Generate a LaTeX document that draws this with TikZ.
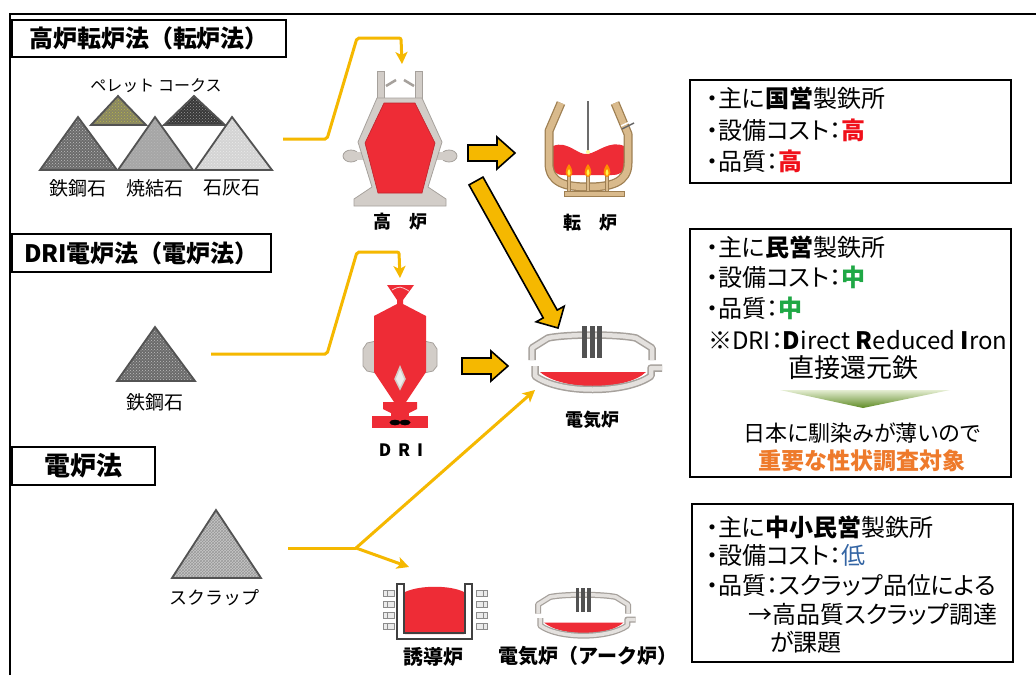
\documentclass[tikz,border=0pt]{standalone}
\usepackage{fontspec}
\setmainfont{Noto Sans CJK JP}
\newfontfamily\jpp{Noto Sans CJK JP}[RawFeature=+palt]
\usetikzlibrary{arrows.meta,patterns}
\definecolor{ylw}{HTML}{F5B800}
\definecolor{fgrey}{HTML}{D2CDC8}
\definecolor{fgreyd}{HTML}{A6A19C}
\definecolor{fred}{HTML}{EE2C36}
\definecolor{ctan}{HTML}{D9BA8C}
\definecolor{ctand}{HTML}{9E7F52}
\definecolor{txtred}{HTML}{F0101A}
\definecolor{txtgreen}{HTML}{1FA845}
\definecolor{txtblue}{HTML}{3465A4}
\definecolor{txtorange}{HTML}{EE7A2B}
\definecolor{wedgedark}{HTML}{5E8A24}
\definecolor{wedgelight}{HTML}{E4EDD2}
\newcommand\myarcfurn[5]{%
\begin{scope}[shift={(#1,#2)}, scale=#3]
  \fill[fred] (-52,22) -- (54,22) .. controls (34,41) and (-30,41) .. (-52,22) -- cycle;
  \draw[fgreyd, line width=#4, line join=round] (-57,16) -- (-57,26) .. controls (-33,44) and (34,44) .. (59,26) -- (59,18) -- (70,18);
  \draw[fgrey!60!white, line width=#5, line join=round] (-57,16) -- (-57,26) .. controls (-33,44) and (34,44) .. (59,26) -- (59,18) -- (70,18);
  \draw[fgreyd, line width=#4, line join=round] (-60,10) -- (-60,-2) -- (-44,-12) .. controls (-25,-16) and (25,-16) .. (44,-12) -- (60,-2) -- (60,10);
  \draw[fgrey!60!white, line width=#5, line join=round] (-60,10) -- (-60,-2) -- (-44,-12) .. controls (-25,-16) and (25,-16) .. (44,-12) -- (60,-2) -- (60,10);
  \fill[black!68] (-10,-24) rectangle (-5,8);
  \fill[black!68] (-2.5,-24) rectangle (2.5,8);
  \fill[black!68] (5,-24) rectangle (10,8);
\end{scope}}
\begin{document}
\begin{tikzpicture}[x=1pt,y=-1pt,
  pile/.style={draw=gray!65!black, line width=1.8pt, line join=miter},
  pilef/.style 2 args={pile, preaction={fill=#1}, preaction={pattern=crosshatch dots, pattern color=#2}},
  lbl/.style={inner sep=0pt, font=\fontsize{19pt}{22pt}\selectfont},
  flbl/.style={inner sep=0pt, font=\bfseries\fontsize{18pt}{21pt}\selectfont},
  titlebox/.style={draw, line width=2.5pt, inner sep=0pt, font=\bfseries\fontsize{24pt}{28pt}\selectfont},
  infobox/.style={draw, line width=2.5pt, inner sep=0pt},
  infotxt/.style={anchor=west, inner sep=0pt, font=\jpp\fontsize{24pt}{28pt}\selectfont},
  ctrtxt/.style={inner sep=0pt, font=\jpp\fontsize{22pt}{26pt}\selectfont},
  yline/.style={draw=ylw, line width=3pt, rounded corners=2pt},
  yarrow/.style={yline, -{Stealth[length=12pt,width=12pt,inset=3pt]}},
  blockarrow/.style={fill=ylw, draw=black, line width=1.6pt, line join=miter},
  grey/.style={fill=fgrey, draw=fgreyd, line width=0.8pt}
]
\useasboundingbox (0,0) rectangle (1036,675);
\fill[white] (0,0) rectangle (1036,675);
% outer frame
\draw[line width=2pt] (10,675) -- (10,14) -- (1036,14);

% title boxes
\node[titlebox, minimum width=274pt, minimum height=37pt] (t1) at (149,38.5) {高炉転炉法（転炉法）};
\node[titlebox, minimum width=259pt, minimum height=38pt] (t2) at (141.5,253) {DRI電炉法（電炉法）};
\node[titlebox, minimum width=143pt, minimum height=38pt, font=\bfseries\fontsize{26pt}{30pt}\selectfont] (t3) at (83.5,466) {電炉法};

% raw material piles (top)
\draw[pilef={black!55!yellow!60!gray}{yellow!45!gray}] (91,125) -- (118,96) -- (146,125) -- cycle;
\draw[pilef={black!78}{black!40}] (164,125) -- (194,96) -- (225,125) -- cycle;
\draw[pilef={black!58}{black!25}] (40,170) -- (78,117) -- (117,170) -- cycle;
\draw[pilef={black!35}{black!28}] (118,170) -- (155,117) -- (193,170) -- cycle;
\draw[pilef={black!17}{black!8}] (195,170) -- (232,117) -- (272,170) -- cycle;
\node[lbl, font=\fontsize{16pt}{19pt}\selectfont] (pc) at (156,86) {ペレット コークス};
\node[lbl] (o1) at (78,188) {鉄鋼石};
\node[lbl] (o2) at (155,188) {焼結石};
\node[lbl] (o3) at (232,188) {石灰石};

% DRI ore pile
\draw[pilef={black!58}{black!25}] (117,381) -- (155,327) -- (195,381) -- cycle;
\node[lbl] (o4) at (155,402) {鉄鋼石};

% scrap pile
\draw[pile, preaction={fill=black!22}, preaction={pattern=crosshatch, pattern color=black!40}] (172,578) -- (216,510) -- (261,578) -- cycle;
\node[lbl, font=\fontsize{18pt}{21pt}\selectfont] (sc) at (214,598) {スクラップ};

% ---------- blast furnace ----------
\fill[grey] (377,71) rectangle (384,100);
\fill[grey] (415,71) rectangle (422,100);
\draw[fgreyd, line width=2.5pt] (386,86) -- (396,80);
\draw[fgreyd, line width=2.5pt] (414,86) -- (404,80);
\filldraw[grey] (351,156) ellipse (8 and 6);
\filldraw[grey] (449,156) ellipse (8 and 6);
\fill[fgrey] (355,152) rectangle (366,160);
\fill[fgrey] (434,152) rectangle (445,160);
\filldraw[grey] (377,98) -- (422,98) -- (442,142) -- (428,187) -- (446,199) -- (446,206) -- (354,206) -- (354,199) -- (372,187) -- (358,142) -- cycle;
\filldraw[fill=fred, draw=fred!80!black, line width=0.6pt] (384,103) -- (415,103) -- (435,143) -- (422,193) -- (378,193) -- (365,143) -- cycle;
\node[flbl] (bfl) at (400,222) {高　炉};

% ---------- converter ----------
\fill[fred] (553,146) .. controls (568,140) and (578,156) .. (588,154) .. controls (598,152) and (610,140) .. (624,146) -- (624,166) .. controls (624,172) and (620,175) .. (612,175) -- (564,175) .. controls (556,175) and (553,172) .. (553,166) -- cycle;
\draw[ctand, line width=9pt, line join=round] (561,103) -- (549,131) -- (549,163) .. controls (549,183) and (566,187) .. (588,187) .. controls (610,187) and (628,183) .. (628,163) -- (628,134) -- (615,103);
\draw[ctan, line width=6.5pt, line join=round] (561,103) -- (549,131) -- (549,163) .. controls (549,183) and (566,187) .. (588,187) .. controls (610,187) and (628,183) .. (628,163) -- (628,134) -- (615,103);
\draw[black!60, line width=1.5pt] (622,129) -- (634,123);
\draw[white, line width=1.5pt] (621,126) -- (634,120);
\draw[gray!85!black, line width=2.2pt] (588,101) -- (588,151);
\fill[yellow!40] (588,152) circle (2);
\foreach \fx in {569,588,607} {
  \draw[ctand, line width=3.6pt] (\fx,175) -- (\fx,192);
  \draw[ctan, line width=1.8pt] (\fx,175) -- (\fx,192);
  \fill[orange!90!yellow] (\fx,164) .. controls (\fx+4.5,170) and (\fx+4.5,176) .. (\fx,177) .. controls (\fx-4.5,176) and (\fx-4.5,170) .. (\fx,164);
  \fill[yellow!70] (\fx,169) .. controls (\fx+2,172) and (\fx+2,175) .. (\fx,176) .. controls (\fx-2,175) and (\fx-2,172) .. (\fx,169);
}
\filldraw[fill=ctan, draw=ctand, line width=0.8pt] (564,191) rectangle (624,196);
\node[flbl] (cvl) at (590,223) {転　炉};

% ---------- DRI furnace ----------
\filldraw[grey] (376,341) -- (367,343) -- (363,349) -- (363,366) -- (367,371) -- (376,373) -- cycle;
\filldraw[grey] (424,341) -- (433,343) -- (437,349) -- (437,366) -- (433,371) -- (424,373) -- cycle;
\fill[fred] (387,285) -- (414,285) -- (403,300) -- (397,300) -- cycle;
\draw[white!75!fred, line width=0.8pt] (392,290) .. controls (400,286) .. (409,291);
\fill[fred] (397,299) -- (403,299) -- (403,304) -- (426,316) -- (426,372) -- (406,402) -- (394,402) -- (374,372) -- (374,316) -- (397,304) -- cycle;
\filldraw[fill=white!85!gray, draw=fgrey, line width=1.5pt] (400,367) -- (405,379) -- (400,389) -- (395,379) -- cycle;
\fill[fred] (383,402) -- (417,402) -- (417,409) -- (409,413) -- (391,413) -- (383,409) -- cycle;
\fill[fred] (391,412) rectangle (409,417);
\fill[fred] (372,416) rectangle (428,428);
\fill[black] (395,422.5) ellipse (5.5 and 2.8);
\fill[black] (405,422.5) ellipse (5.5 and 2.8);
\node[flbl, font=\bfseries\fontsize{17pt}{20pt}\selectfont] (dril) at (401,450) {D\hspace{7pt}R\hspace{7pt}I};

% ---------- electric arc furnace (middle) ----------
\myarcfurn{592}{350}{1}{7.5pt}{4.5pt}
\node[flbl] (efl) at (592,420) {電気炉};

% ---------- induction furnace ----------
\fill[fred] (405,592) .. controls (420,585) and (450,585) .. (464,592) -- (464,634) -- (405,634) -- cycle;
\draw[black!75, line width=1.3pt, line join=miter] (397,584) -- (397,639) -- (472,639) -- (472,584) -- (465,584) -- (465,633) -- (404,633) -- (404,584) -- cycle;
\foreach \cy in {590,601,612,623} {
  \filldraw[fill=black!8, draw=black!45, line width=0.7pt] (383,\cy) rectangle (394,\cy+6);
  \draw[black!45, line width=0.6pt] (387,\cy) -- (387,\cy+6);
  \filldraw[fill=black!8, draw=black!45, line width=0.7pt] (476,\cy) rectangle (487,\cy+6);
  \draw[black!45, line width=0.6pt] (483,\cy) -- (483,\cy+6);
}
\node[flbl, font=\bfseries\fontsize{20pt}{23pt}\selectfont] (ifl) at (433,657) {誘導炉};

% ---------- electric arc furnace (bottom) ----------
\myarcfurn{583}{606}{0.75}{6pt}{3.5pt}
\node[flbl, font=\bfseries\fontsize{20pt}{23pt}\selectfont] (afl) at (588,656) {電気炉（アーク炉）};

% ---------- yellow connectors ----------
\coordinate (c1a) at (283,139);
\coordinate (c1b) at (402,64);
\draw[yarrow] (c1a) -- (327,139) -- (357,38) -- (401,38) -- (c1b);
\coordinate (c2a) at (211,354);
\coordinate (c2b) at (400,278);
\draw[yarrow] (c2a) -- (327,354) -- (357,252) -- (399,252) -- (c2b);
\coordinate (c3a) at (288,548);
\coordinate (jn) at (356,548);
\coordinate (c3b) at (535,390);
\coordinate (c3c) at (409,567);
\draw[yline] (c3a) -- (jn);
\draw[yarrow, rounded corners=0pt] (jn) -- (c3b);
\draw[yarrow, rounded corners=0pt] (jn) -- (c3c);

% ---------- block arrows ----------
\draw[blockarrow] (468,145) -- (497,145) -- (497,137) -- (515,153) -- (497,169) -- (497,161) -- (468,161) -- cycle;
\draw[blockarrow] (462,358) -- (491,358) -- (491,351) -- (508,366) -- (491,381) -- (491,374) -- (462,374) -- cycle;
\draw[blockarrow] (483.0,177.1) -- (557.2,310.1) -- (564.2,306.2) -- (558,328) -- (536.2,321.8) -- (543.2,317.9) -- (469.0,184.9) -- cycle;

% ---------- info boxes ----------
\node[infobox, minimum width=321pt, minimum height=103pt] (bA) at (850.5,131.5) {};
\node[infotxt] (a1) at (706,98) {・主に\textbf{国営}製鉄所};
\node[infotxt] (a2) at (706,130) {・設備コスト：\textcolor{txtred}{\textbf{高}}};
\node[infotxt] (a3) at (706,161) {・品質：\textcolor{txtred}{\textbf{高}}};

\node[infobox, minimum width=321pt, minimum height=248pt] (bB) at (850.5,353) {};
\node[infotxt] (b1) at (706,247) {・主に\textbf{民営}製鉄所};
\node[infotxt] (b2) at (706,277) {・設備コスト：\textcolor{txtgreen}{\textbf{中}}};
\node[infotxt] (b3) at (706,308) {・品質：\textcolor{txtgreen}{\textbf{中}}};
\node[infotxt] (b4) at (708,340) {※DRI：\textbf{D}irect \textbf{R}educed \textbf{I}ron};
\node[ctrtxt, font=\jpp\fontsize{26pt}{30pt}\selectfont] (b5) at (853,368) {直接還元鉄};
\shade[top color=wedgelight, bottom color=wedgedark] (780,390) -- (950,390) -- (863,408) -- cycle;
\node[ctrtxt] (b6) at (862,433) {日本に馴染みが薄いので};
\node[ctrtxt, text=txtorange, font=\jpp\bfseries\fontsize{23pt}{27pt}\selectfont] (b7) at (862,461) {重要な性状調査対象};

\node[infobox, minimum width=321pt, minimum height=158pt] (bC) at (852.5,583) {};
\node[infotxt] (c1) at (706,527) {・主に\textbf{中小民営}製鉄所};
\node[infotxt] (c2) at (706,555) {・設備コスト：\textcolor{txtblue}{低}};
\node[infotxt] (c3) at (706,585) {・品質：スクラップ品位による};
\node[infotxt] (c4) at (748,614) {→高品質スクラップ調達};
\node[infotxt] (c5) at (770,642) {が課題};
\end{tikzpicture}
\end{document}
